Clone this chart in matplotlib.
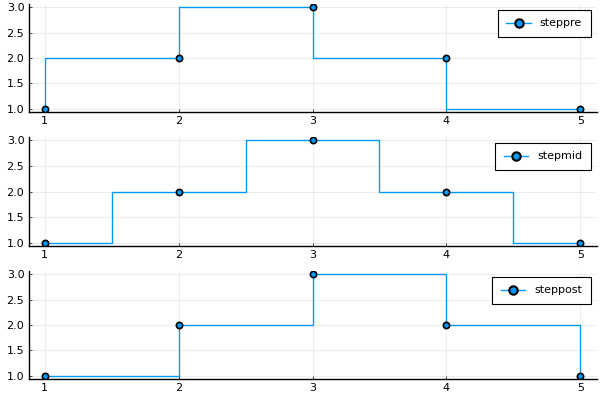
import matplotlib
matplotlib.use("Agg")
import matplotlib.pyplot as plt

x = [1, 2, 3, 4, 5]
y = [1, 2, 3, 2, 1]
labels = ["steppre", "stepmid", "steppost"]
wheres = ["pre", "mid", "post"]
color = "#009AFA"

fig = plt.figure(figsize=(6, 4), dpi=100)
rects = [
    (28.5/600, 1-112/400, 568/600, 108/400),
    (28.5/600, 1-246/400, 568/600, 109/400),
    (28.5/600, 1-379/400, 568/600, 108/400),
]
for r, lab, wh in zip(rects, labels, wheres):
    ax = fig.add_axes(r)
    ax.step(x, y, where=wh, color=color, lw=1.0, zorder=2)
    ax.plot(x, y, ls="none", marker="o", ms=4.5, mfc=color, mec="black", mew=1.2, zorder=3)
    ax.plot([], [], color=color, lw=1.0, marker="o", ms=6, mfc=color, mec="black", mew=1.5, label=lab)
    ax.set_xlim(0.88, 5.12)
    ax.set_ylim(0.94, 3.06)
    ax.set_xticks([1, 2, 3, 4, 5])
    ax.set_yticks([1.0, 1.5, 2.0, 2.5, 3.0])
    ax.set_yticklabels(["1.0", "1.5", "2.0", "2.5", "3.0"])
    ax.grid(True, color="black", alpha=0.1, lw=0.5)
    ax.set_axisbelow(True)
    for s in ["top", "right"]:
        ax.spines[s].set_visible(False)
    for s in ["left", "bottom"]:
        ax.spines[s].set_linewidth(1.0)
    ax.tick_params(direction="in", length=2, width=0.5, labelsize=8, pad=3)
    leg = ax.legend(loc="upper right", fontsize=8, fancybox=False, framealpha=1,
                    edgecolor="black", handlelength=2.2, borderpad=0.8)
    leg.get_frame().set_linewidth(0.8)

fig.savefig("out.png", dpi=100)
